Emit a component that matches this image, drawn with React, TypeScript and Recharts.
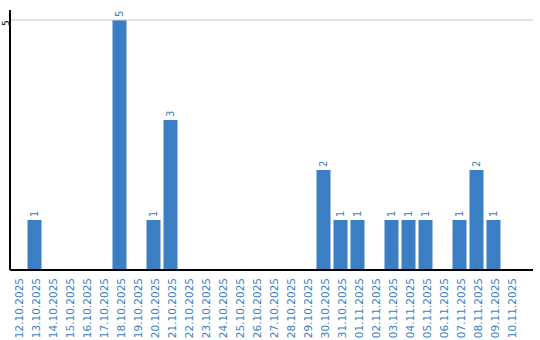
import { BarChart, Bar, XAxis, YAxis, ReferenceLine, LabelList } from "recharts";

const dates = [
  "12.10.2025", "13.10.2025", "14.10.2025", "15.10.2025", "16.10.2025",
  "17.10.2025", "18.10.2025", "19.10.2025", "20.10.2025", "21.10.2025",
  "22.10.2025", "23.10.2025", "24.10.2025", "25.10.2025", "26.10.2025",
  "27.10.2025", "28.10.2025", "29.10.2025", "30.10.2025", "31.10.2025",
  "01.11.2025", "02.11.2025", "03.11.2025", "04.11.2025", "05.11.2025",
  "06.11.2025", "07.11.2025", "08.11.2025", "09.11.2025", "10.11.2025",
];
const counts = [
  0, 1, 0, 0, 0, 0, 5, 0, 1, 3,
  0, 0, 0, 0, 0, 0, 0, 0, 2, 1,
  1, 0, 1, 1, 1, 0, 1, 2, 1, 0,
];
const yTicks = [5];

const data = dates.map((d, i) => ({ date: d, count: counts[i] }));

const BLUE = "#3b7ec3";
const FONT = "'DejaVu Sans', sans-serif";

const XTick = (props: any) => {
  const { x, y, payload } = props;
  return (
    <text
      x={x}
      y={y}
      transform={`rotate(-90, ${x}, ${y})`}
      textAnchor="end"
      dy={4}
      dx={0}
      fill={BLUE}
      fontSize={10.5}
      fontFamily={FONT}
    >
      {payload.value}
    </text>
  );
};

const YTick = (props: any) => {
  const { y, payload } = props;
  return (
    <text
      x={9}
      y={y + 3}
      transform={`rotate(-90, 9, ${y + 3})`}
      textAnchor="middle"
      fill="#000"
      fontSize={9}
      fontFamily={FONT}
    >
      {payload.value}
    </text>
  );
};

const BarShape = (props: any) => {
  const { x, y, width, height, fill } = props;
  if (!height) return null;
  return <rect x={x - 1.5} y={y} width={width} height={height} fill={fill} />;
};

const BarLabel = (props: any) => {
  const { x, y, width, value } = props;
  if (!value) return null;
  const cx = x + width / 2 + 2;
  const cy = y - 3;
  return (
    <text
      x={cx}
      y={cy}
      transform={`rotate(-90, ${cx}, ${cy})`}
      textAnchor="start"
      fill={BLUE}
      fontSize={10}
      fontFamily={FONT}
    >
      {value}
    </text>
  );
};

export default function App() {
  return (
    <div style={{ width: 540, height: 340 }}>
      <style>{`body{margin:0}`}</style>
      <BarChart
        width={540}
        height={340}
        data={data}
        margin={{ top: 10, right: 7, bottom: 0, left: 0 }}
        barCategoryGap={0}
        barSize={14}
      >
        <ReferenceLine y={5} stroke="#c8c8c8" strokeWidth={1} />
        <XAxis
          dataKey="date"
          interval={0}
          height={70}
          tick={<XTick />}
          tickLine={false}
          axisLine={{ stroke: "#000", strokeWidth: 2 }}
          padding={{ left: 0, right: 13 }}
        />
        <YAxis
          width={10}
          domain={[0, 5.2]}
          ticks={yTicks}
          tick={<YTick />}
          tickLine={false}
          axisLine={{ stroke: "#000", strokeWidth: 2 }}
          allowDataOverflow
        />
        <Bar dataKey="count" fill={BLUE} isAnimationActive={false} shape={<BarShape />}>
          <LabelList dataKey="count" content={<BarLabel />} />
        </Bar>
      </BarChart>
    </div>
  );
}
